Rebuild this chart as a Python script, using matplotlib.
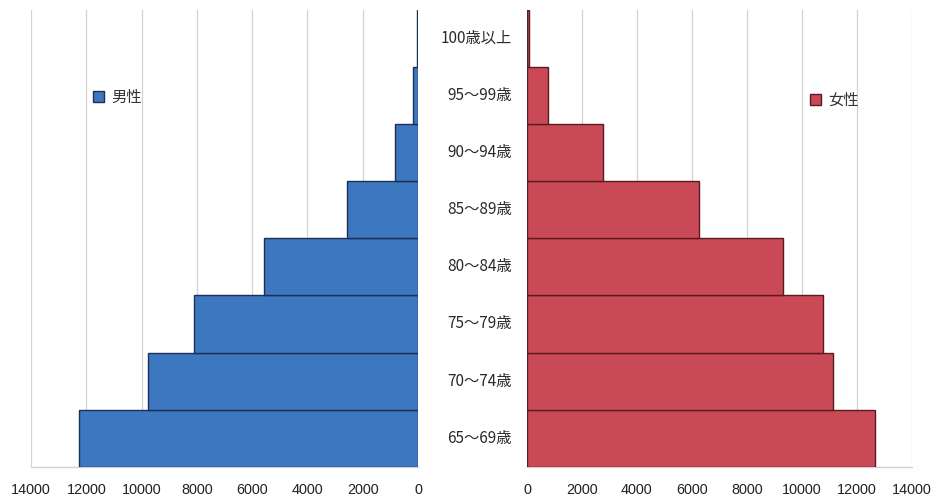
import matplotlib
matplotlib.use("Agg")
import matplotlib.pyplot as plt
import matplotlib.transforms as mtrans
from matplotlib.patches import Patch

age_groups = ["65～69歳", "70～74歳", "75～79歳", "80～84歳", "85～89歳", "90～94歳", "95～99歳", "100歳以上"]
male = [12250, 9770, 8100, 5580, 2580, 830, 190, 30]
female = [12680, 11140, 10760, 9300, 6270, 2780, 765, 60]
xticks = list(range(0, 14001, 2000))

blue = "#3d77c0"
blue_edge = "#1c2f55"
red = "#c94a56"
red_edge = "#5a1a1e"
grid_c = "#d2d2d2"

fig = plt.figure(figsize=(9.37, 4.99), dpi=100)
axL = fig.add_axes([31/937, 32.3/499, 387/937, 456.7/499])
axR = fig.add_axes([527/937, 32.3/499, 384.7/937, 456.7/499])

y = list(range(len(age_groups)))
axL.barh(y, male, height=1.0, color=blue, edgecolor=blue_edge, linewidth=1.0, zorder=3)
axR.barh(y, female, height=1.0, color=red, edgecolor=red_edge, linewidth=1.0, zorder=3)

for ax in (axL, axR):
    ax.set_ylim(-0.5, len(age_groups) - 0.5)
    ax.set_xticks(xticks)
    ax.set_xticklabels([str(v) for v in xticks], fontfamily="Liberation Sans", fontsize=10.4, color="#222222")
    ax.set_yticks([])
    ax.tick_params(axis="x", length=0, pad=12)
    ax.grid(axis="x", color=grid_c, linewidth=0.9, zorder=0)
    for s in ("top", "left", "right"):
        ax.spines[s].set_visible(False)
    ax.spines["bottom"].set_color(grid_c)
    ax.spines["bottom"].set_linewidth(1.0)

axL.set_xlim(14000, 0)
axR.set_xlim(0, 14000)

# age labels in the middle gap
tr = mtrans.blended_transform_factory(fig.transFigure, axL.transData)
for i, lab in enumerate(age_groups):
    fig.text(512/937, i, lab, transform=tr, ha="right", va="center",
             fontfamily=["Noto Sans CJK JP", "DejaVu Sans"], fontsize=11, color="#2a2a2a")

legend_font = {"family": ["Noto Sans CJK JP", "DejaVu Sans"], "size": 11}
fig.legend(handles=[Patch(facecolor=blue, edgecolor=blue_edge, label="男性")],
           loc="center left", bbox_to_anchor=(93/937, 1 - 97/499), frameon=False,
           handlelength=0.7, handleheight=0.7, handletextpad=0.5, borderpad=0, borderaxespad=0,
           prop=legend_font, labelcolor="#333333")
fig.legend(handles=[Patch(facecolor=red, edgecolor=red_edge, label="女性")],
           loc="center left", bbox_to_anchor=(810/937, 1 - 100/499), frameon=False,
           handlelength=0.7, handleheight=0.7, handletextpad=0.5, borderpad=0, borderaxespad=0,
           prop=legend_font, labelcolor="#333333")

fig.savefig("out.png", dpi=100, facecolor="white")
